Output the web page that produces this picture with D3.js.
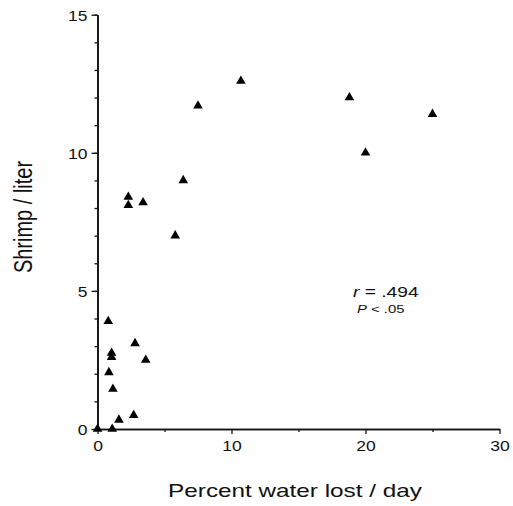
<!DOCTYPE html>
<html>
<head>
<meta charset="utf-8">
<script src="https://cdn.jsdelivr.net/npm/d3@7"></script>
<style>
  body { margin: 0; background: #fff; }
  text { font-family: "Liberation Sans", Arial, Helvetica, sans-serif; fill: #111; }
</style>
</head>
<body>
<script>
// percent water lost per day vs shrimp per liter
var waterLost = [0, 1.1, 1.6, 2.7, 1.15, 0.85, 1.05, 1.05, 3.6, 2.8, 0.8, 5.8, 2.3, 3.4, 2.3, 6.4, 20.0, 25.0, 7.5, 18.8, 10.7];
var shrimp    = [0, 0, 0.33, 0.5, 1.45, 2.05, 2.6, 2.75, 2.5, 3.1, 3.9, 7.0, 8.1, 8.2, 8.4, 9.0, 10.0, 11.4, 11.7, 12.0, 12.6];

var xTicks = [0, 10, 20, 30];
var xMinor = [5, 15, 25];
var yTicks = [0, 5, 10, 15];
var yMinor = d3.range(0, 16);

var xTitle = "Percent water lost / day";
var yTitle = "Shrimp / liter";

var width = 513, height = 506;
var margin = {top: 14.7, right: 13.5, bottom: 77, left: 97.5};

var x = d3.scaleLinear().domain([0, 30]).range([margin.left, width - margin.right]);
var y = d3.scaleLinear().domain([0, 15]).range([height - margin.bottom, margin.top]);

var svg = d3.select("body").append("svg")
    .attr("width", width)
    .attr("height", height);

// minor ticks first, majors on top
svg.append("g")
    .attr("transform", "translate(0," + y(0) + ")")
    .call(d3.axisBottom(x).tickValues(xMinor).tickSize(3).tickSizeOuter(0).tickFormat(""));
svg.append("g")
    .attr("transform", "translate(" + x(0) + ",0)")
    .call(d3.axisLeft(y).tickValues(yMinor).tickSize(3).tickSizeOuter(0).tickFormat(""));

var xAxis = svg.append("g")
    .attr("transform", "translate(0," + y(0) + ")")
    .call(d3.axisBottom(x).tickValues(xTicks).tickSize(5).tickSizeOuter(0));
var yAxis = svg.append("g")
    .attr("transform", "translate(" + x(0) + ",0)")
    .call(d3.axisLeft(y).tickValues(yTicks).tickSize(6).tickSizeOuter(0));

svg.selectAll(".domain").attr("stroke", "#111").attr("stroke-width", 1.6);
svg.selectAll(".tick line").attr("stroke", "#111").attr("stroke-width", 1.3);

// the original print is stretched sideways, so widen the glyphs a bit
xAxis.selectAll(".tick text")
    .attr("font-size", 14)
    .attr("y", 0)
    .attr("dy", 0)
    .attr("transform", "translate(0,22) scale(1.25,1)");
yAxis.selectAll(".tick text")
    .attr("font-size", 14)
    .attr("x", 0)
    .attr("dy", "0.38em")
    .attr("transform", "translate(-10,0) scale(1.25,1)");

// points
svg.append("g").selectAll("path")
    .data(waterLost)
  .enter().append("path")
    .attr("d", d3.symbol().type(d3.symbolTriangle).size(40))
    .attr("transform", function(d, i) { return "translate(" + x(d) + "," + y(shrimp[i]) + ")"; })
    .attr("fill", "#000");

// axis titles
svg.append("text")
    .attr("transform", "translate(295,497) scale(1.35,1)")
    .attr("text-anchor", "middle")
    .attr("font-size", 18)
    .text(xTitle);

svg.append("text")
    .attr("transform", "translate(31.5,217) scale(1.33,1) rotate(-90)")
    .attr("text-anchor", "middle")
    .attr("font-size", 20)
    .text(yTitle);

// stats annotation
var r = svg.append("text")
    .attr("transform", "translate(353,297) scale(1.28,1)")
    .attr("font-size", 15);
r.append("tspan").attr("font-style", "italic").text("r");
r.append("tspan").text("  =  .494");

var p = svg.append("text")
    .attr("transform", "translate(357,313) scale(1.35,1)")
    .attr("font-size", 11);
p.append("tspan").attr("font-style", "italic").text("P");
p.append("tspan").text("  < .05");
</script>
</body>
</html>
